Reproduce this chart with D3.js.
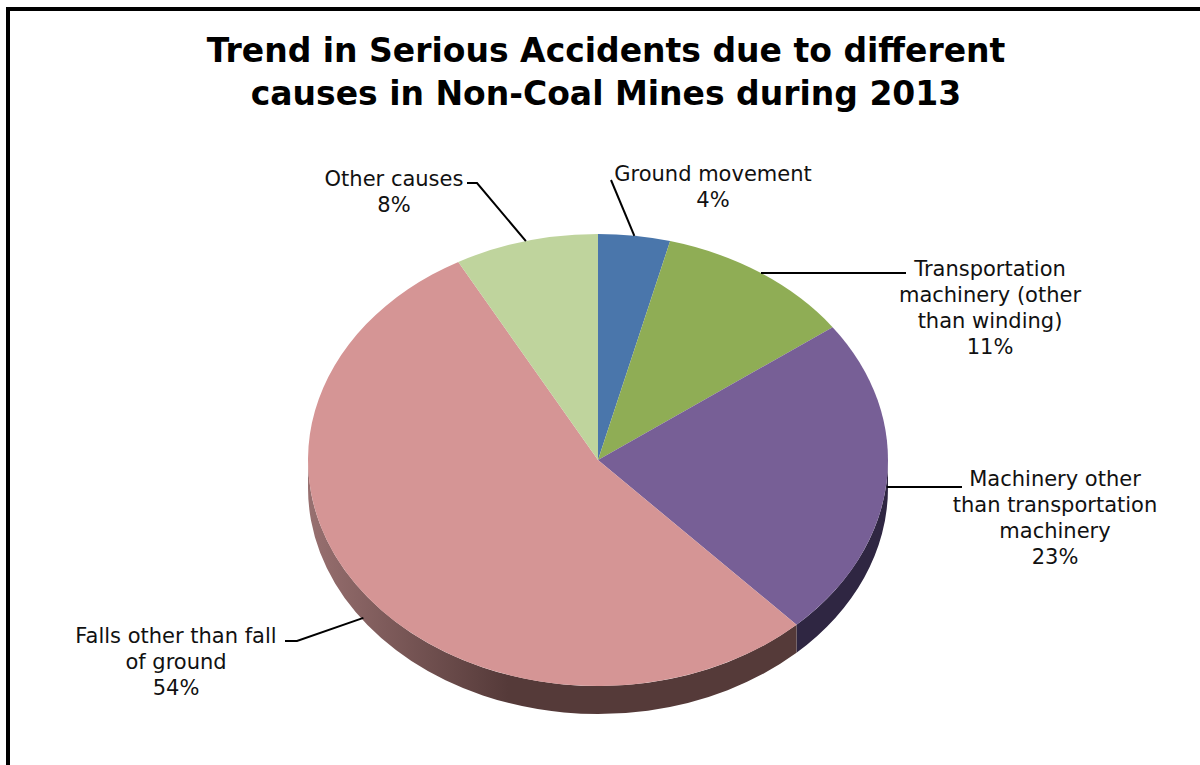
<!DOCTYPE html>
<html>
<head>
<meta charset="utf-8">
<script src="https://cdn.jsdelivr.net/npm/d3@7"></script>
<style>
  html, body { margin: 0; padding: 0; background: #fff; }
  svg { display: block; }
</style>
</head>
<body>
<svg id="chart" width="1200" height="765"></svg>
<script>
// Serious accidents in non-coal mines, 2013, share by cause (%)
const categories = [
  "Ground movement",
  "Transportation machinery (other than winding)",
  "Machinery other than transportation machinery",
  "Falls other than fall of ground",
  "Other causes"
];
const shares = [4, 11, 23, 54, 8];
const labelLines = [
  ["Ground movement"],
  ["Transportation", "machinery (other", "than winding)"],
  ["Machinery other", "than transportation", "machinery"],
  ["Falls other than fall", "of ground"],
  ["Other causes"]
];
const titleLines = [
  "Trend in Serious Accidents due to different",
  "causes in Non-Coal Mines during 2013"
];

// Styling
const topColors  = ["#4a76ab", "#8fad55", "#775f96", "#d59595", "#bfd49d"];
const sideColors = ["#2a3f5c", "#4b5c2c", "#2f2642", "url(#fallsSide)", "#66704f"];

// Geometry of the tilted pie
const W = 1200, H = 765;
const cx = 598, cy = 460, rx = 290, ry = 226, depth = 28;

// Label placement: text centre, first baseline, elbow points of leader, leader anchor offset
const labelLayout = [
  { x: 713, y: 181, elbow: [[611, 180]], dy: 0 },
  { x: 990, y: 276, elbow: [[906, 273]], dy: 0, flat: true },
  { x: 1055, y: 486, elbow: [[962, 487]], dy: 6, flat: true },
  { x: 176, y: 643, elbow: [[297, 641], [285, 641]], dy: 25 },
  { x: 394, y: 186, elbow: [[477, 183], [467, 183]], dy: 0 }
];
const lineHeight = 26;

const svg = d3.select("#chart");
const defs = svg.append("defs");

const grad = defs.append("linearGradient")
  .attr("id", "fallsSide")
  .attr("gradientUnits", "userSpaceOnUse")
  .attr("x1", cx - rx).attr("y1", 0)
  .attr("x2", cx - rx + 200).attr("y2", 0);
grad.append("stop").attr("offset", 0).attr("stop-color", "#987070");
grad.append("stop").attr("offset", 1).attr("stop-color", "#553a39");

// Frame (top and left edges)
svg.append("path")
  .attr("d", `M8,${H} V9 H${W}`)
  .attr("fill", "none")
  .attr("stroke", "#000")
  .attr("stroke-width", 4);

// Title
svg.append("text")
  .attr("x", 606)
  .attr("text-anchor", "middle")
  .attr("font-family", "'DejaVu Sans', Verdana, sans-serif")
  .attr("font-weight", "bold")
  .attr("font-size", 33)
  .attr("fill", "#000")
  .selectAll("tspan")
  .data(titleLines)
  .join("tspan")
  .attr("x", 606)
  .attr("y", (d, i) => 62 + i * 43)
  .text(d => d);

const pie = d3.pie().sort(null).value(d => d).startAngle(0).endAngle(2 * Math.PI);
const arcs = pie(shares);

// point on the top ellipse at pie angle t (0 = top, clockwise)
const ept = (t, dy = 0) => [cx + rx * Math.sin(t), cy - ry * Math.cos(t) + dy];

// Outer walls of the front half
const gSide = svg.append("g");
arcs.forEach((a, i) => {
  const t0 = Math.max(a.startAngle, Math.PI / 2);
  const t1 = Math.min(a.endAngle, 3 * Math.PI / 2);
  if (t1 <= t0) return;
  const p0 = ept(t0), p1 = ept(t1);
  const d = `M${p0[0]},${p0[1]} A${rx},${ry} 0 0 1 ${p1[0]},${p1[1]}` +
            ` L${p1[0]},${p1[1] + depth} A${rx},${ry} 0 0 0 ${p0[0]},${p0[1] + depth} Z`;
  gSide.append("path").attr("d", d).attr("fill", sideColors[i]);
});

// Top surface
const arc = d3.arc().innerRadius(0).outerRadius(rx);
svg.append("g")
  .attr("transform", `translate(${cx},${cy}) scale(1,${ry / rx})`)
  .selectAll("path")
  .data(arcs)
  .join("path")
  .attr("d", arc)
  .attr("fill", (d, i) => topColors[i]);

// Leader lines
const gLead = svg.append("g")
  .attr("fill", "none")
  .attr("stroke", "#000")
  .attr("stroke-width", 2);
arcs.forEach((a, i) => {
  const L = labelLayout[i];
  const mid = (a.startAngle + a.endAngle) / 2;
  let anchor = ept(mid, L.dy);
  const pts = [anchor, ...L.elbow];
  if (L.flat) pts[0] = [anchor[0], L.elbow[0][1]];
  gLead.append("path").attr("d", d3.line()(pts));
});

// Labels
const gLab = svg.append("g")
  .attr("font-family", "'DejaVu Sans', Verdana, sans-serif")
  .attr("font-size", 21)
  .attr("fill", "#111")
  .attr("text-anchor", "middle");
arcs.forEach((a, i) => {
  const L = labelLayout[i];
  const lines = [...labelLines[i], `${shares[i]}%`];
  const t = gLab.append("text");
  lines.forEach((s, k) => {
    t.append("tspan").attr("x", L.x).attr("y", L.y + k * lineHeight).text(s);
  });
});
</script>
</body>
</html>
